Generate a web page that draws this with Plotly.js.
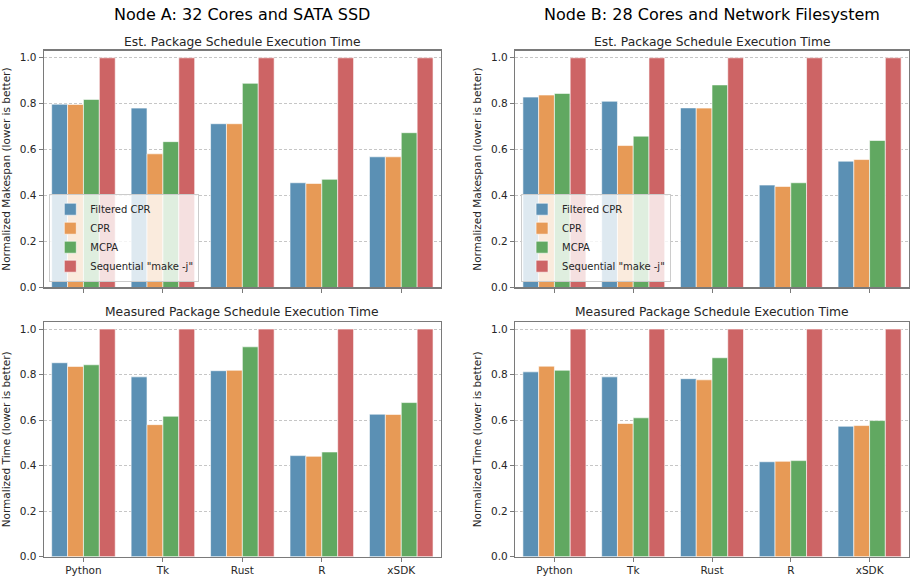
<!DOCTYPE html>
<html>
<head>
<meta charset="utf-8">
<script src="https://cdn.plot.ly/plotly-3.0.1.min.js"></script>
<style>html,body{margin:0;padding:0;background:#fff;}#chart{width:913px;height:578px;}</style>
</head>
<body>
<div id="chart"></div>
<script>
const categories = ['Python', 'Tk', 'Rust', 'R', 'xSDK'];
const seriesNames = ['Filtered CPR', 'CPR', 'MCPA', 'Sequential "make -j"'];
const tickVals = [0, 0.2, 0.4, 0.6, 0.8, 1.0];
const tickText = ['0.0', '0.2', '0.4', '0.6', '0.8', '1.0'];

// Node A, estimated
const estA_filteredCPR = [0.798, 0.781, 0.713, 0.456, 0.569];
const estA_CPR         = [0.797, 0.582, 0.713, 0.453, 0.569];
const estA_MCPA        = [0.819, 0.635, 0.889, 0.471, 0.674];
const estA_sequential  = [1.0, 1.0, 1.0, 1.0, 1.0];
// Node B, estimated
const estB_filteredCPR = [0.829, 0.811, 0.782, 0.446, 0.550];
const estB_CPR         = [0.838, 0.618, 0.781, 0.440, 0.557];
const estB_MCPA        = [0.845, 0.659, 0.882, 0.456, 0.640];
const estB_sequential  = [1.0, 1.0, 1.0, 1.0, 1.0];
// Node A, measured
const measA_filteredCPR = [0.852, 0.790, 0.817, 0.444, 0.626];
const measA_CPR         = [0.836, 0.580, 0.819, 0.441, 0.625];
const measA_MCPA        = [0.843, 0.617, 0.922, 0.460, 0.677];
const measA_sequential  = [1.0, 1.0, 1.0, 1.0, 1.0];
// Node B, measured
const measB_filteredCPR = [0.812, 0.790, 0.782, 0.417, 0.573];
const measB_CPR         = [0.837, 0.585, 0.777, 0.419, 0.576];
const measB_MCPA        = [0.819, 0.610, 0.874, 0.422, 0.598];
const measB_sequential  = [1.0, 1.0, 1.0, 1.0, 1.0];

const colors = ['rgb(91,144,180)', 'rgb(231,154,86)', 'rgb(97,168,97)', 'rgb(205,100,101)'];

const panels = [
  {xa: 'x',  ya: 'y',  data: [estA_filteredCPR, estA_CPR, estA_MCPA, estA_sequential], legend: 'legend'},
  {xa: 'x2', ya: 'y2', data: [estB_filteredCPR, estB_CPR, estB_MCPA, estB_sequential], legend: 'legend2'},
  {xa: 'x3', ya: 'y3', data: [measA_filteredCPR, measA_CPR, measA_MCPA, measA_sequential], legend: null},
  {xa: 'x4', ya: 'y4', data: [measB_filteredCPR, measB_CPR, measB_MCPA, measB_sequential], legend: null}
];

const traces = [];
panels.forEach(p => {
  p.data.forEach((vals, i) => {
    const t = {
      type: 'bar', x: categories, y: vals, name: seriesNames[i],
      xaxis: p.xa, yaxis: p.ya,
      marker: {color: colors[i], line: {color: 'rgba(255,255,255,0.6)', width: 1}},
      showlegend: p.legend !== null, hoverinfo: 'x+y+name'
    };
    if (p.legend) t.legend = p.legend;
    traces.push(t);
  });
});

const font = {family: 'DejaVu Sans, sans-serif', size: 10.5, color: '#262626'};
const lineColor = '#7a7a7a';
function xAxis(domain, anchor, labels) {
  return {domain: domain, anchor: anchor, type: 'category', range: [-0.5, 4.5],
    showline: true, mirror: true, linecolor: lineColor, linewidth: 1.2,
    ticks: 'outside', ticklen: 4, tickcolor: lineColor, showgrid: false,
    showticklabels: labels, tickfont: font, fixedrange: true};
}
function yAxis(domain, anchor, title) {
  return {domain: domain, anchor: anchor, range: [0, 1.031],
    tickvals: tickVals, ticktext: tickText,
    showline: true, mirror: true, linecolor: lineColor, linewidth: 1.2,
    ticks: 'outside', ticklen: 4, tickcolor: lineColor,
    showgrid: true, gridcolor: '#b8b8b8', gridwidth: 0.8, griddash: '3px,2px',
    zeroline: false, tickfont: font,
    title: {text: title, font: {family: 'DejaVu Sans, sans-serif', size: 10.5, color: '#262626'}, standoff: 7},
    fixedrange: true};
}
const xL = [0.0479, 0.4830], xR = [0.5641, 0.9956];
const yT = [0.5026, 0.9123], yB = [0.0369, 0.4429];

const legendBase = {
  xref: 'paper', yref: 'paper', xanchor: 'left', yanchor: 'bottom',
  bgcolor: 'rgba(255,255,255,0.8)', bordercolor: '#cccccc', borderwidth: 1,
  font: {family: 'DejaVu Sans, sans-serif', size: 10, color: '#262626'},
  itemwidth: 30, tracegroupgap: 0
};

const titleFont = {family: 'DejaVu Sans, sans-serif', size: 16, color: '#000'};
const subFont = {family: 'DejaVu Sans, sans-serif', size: 12.3, color: '#262626'};

const layout = {
  width: 913, height: 578,
  margin: {l: 0, r: 0, t: 0, b: 0},
  paper_bgcolor: '#fff', plot_bgcolor: '#fff',
  barmode: 'group', bargap: 0.2, bargroupgap: 0,
  font: font,
  xaxis: xAxis(xL, 'y', false), yaxis: yAxis(yT, 'x', 'Normalized Makespan (lower is better)'),
  xaxis2: xAxis(xR, 'y2', false), yaxis2: yAxis(yT, 'x2', 'Normalized Makespan (lower is better)'),
  xaxis3: xAxis(xL, 'y3', true), yaxis3: yAxis(yB, 'x3', 'Normalized Time (lower is better)'),
  xaxis4: xAxis(xR, 'y4', true), yaxis4: yAxis(yB, 'x4', 'Normalized Time (lower is better)'),
  legend: Object.assign({}, legendBase, {x: 0.054, y: 0.5126}),
  legend2: Object.assign({}, legendBase, {x: 0.5707, y: 0.5126}),
  annotations: [
    {text: 'Node A: 32 Cores and SATA SSD', x: 0.2654, y: 1 - 15/578, xref: 'paper', yref: 'paper', showarrow: false, font: titleFont, xanchor: 'center', yanchor: 'middle'},
    {text: 'Node B: 28 Cores and Network Filesystem', x: 0.7799, y: 1 - 15/578, xref: 'paper', yref: 'paper', showarrow: false, font: titleFont, xanchor: 'center', yanchor: 'middle'},
    {text: 'Est. Package Schedule Execution Time', x: 0.2654, y: 1 - 42/578, xref: 'paper', yref: 'paper', showarrow: false, font: subFont, xanchor: 'center', yanchor: 'middle'},
    {text: 'Est. Package Schedule Execution Time', x: 0.7799, y: 1 - 42/578, xref: 'paper', yref: 'paper', showarrow: false, font: subFont, xanchor: 'center', yanchor: 'middle'},
    {text: 'Measured Package Schedule Execution Time', x: 0.2654, y: 1 - 312/578, xref: 'paper', yref: 'paper', showarrow: false, font: subFont, xanchor: 'center', yanchor: 'middle'},
    {text: 'Measured Package Schedule Execution Time', x: 0.7799, y: 1 - 312/578, xref: 'paper', yref: 'paper', showarrow: false, font: subFont, xanchor: 'center', yanchor: 'middle'}
  ]
};

Plotly.newPlot('chart', traces, layout, {displayModeBar: false, staticPlot: true});
</script>
</body>
</html>
